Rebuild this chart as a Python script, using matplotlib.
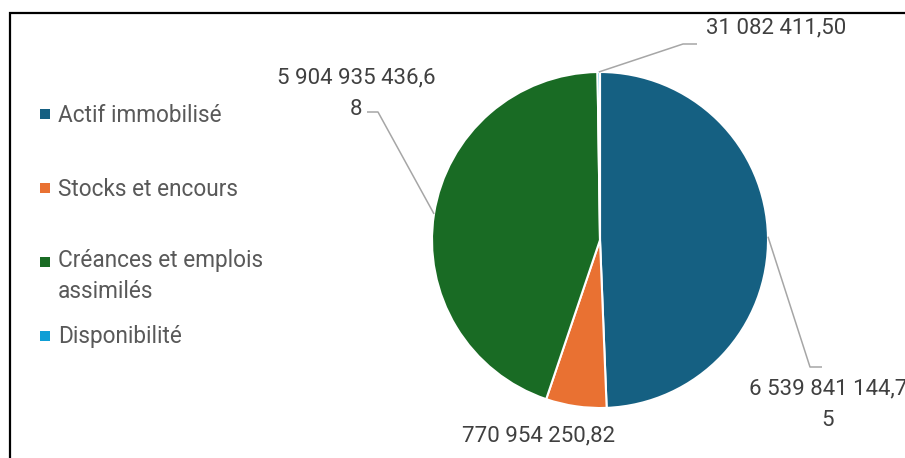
import numpy as np
import matplotlib.pyplot as plt
from matplotlib.lines import Line2D

plt.rcParams['font.family'] = ['Roboto', 'DejaVu Sans']

# Répartition de l'actif
postes = ["Actif immobilisé", "Stocks et encours",
          "Créances et emplois\nassimilés", "Disponibilité"]
montants = [6539841144.75, 770954250.82, 5904935436.68, 31082411.50]
couleurs = ["#156082", "#E97132", "#196B24", "#0F9ED5"]


def format_montant(v, largeur=15):
    s = f"{v:,.2f}".replace(",", " ").replace(".", ",")
    # coupure comme dans la zone d'étiquette d'Excel
    if len(s) > largeur:
        s = s[:largeur] + "\n" + s[largeur:]
    return s


W, H = 905, 458
fig = plt.figure(figsize=(W / 100, H / 100), dpi=100)
ax = fig.add_axes([0, 0, 1, 1])

centre = (600, 240)
rayon = 168
# l'axe y est inversé : départ à -90° en sens direct = midi, sens horaire à l'écran
wedges, _ = ax.pie(montants, colors=couleurs, startangle=-90, counterclock=True,
                   center=centre, radius=rayon, frame=True,
                   wedgeprops=dict(edgecolor="white", linewidth=1.5))
ax.set_xlim(0, W)
ax.set_ylim(H, 0)  # coordonnées en pixels, y vers le bas
ax.axis("off")

# cadre du graphique
ax.add_line(Line2D([9.5, 9.5, W + 5], [H + 5, 12.8, 12.8], color="black", lw=1.6,
                   solid_joinstyle="miter"))

# étiquettes : (x centre, y ligne de base de la dernière ligne, coude du repère, fin du repère)
etiquettes = [
    (828, 426, (810, 367), (822, 367)),
    (538.5, 441, None, None),
    (356, 115, (378, 112), (367, 112)),
    (776, 33, (683, 44), (697, 44)),
]
for w, v, (tx, ty, coude, fin) in zip(wedges, montants, etiquettes):
    ax.text(tx, ty, format_montant(v), ha="center", va="baseline",
            multialignment="center", fontsize=16, color="#404040", linespacing=1.68)
    if coude is not None:
        a = np.deg2rad((w.theta1 + w.theta2) / 2)
        x0 = centre[0] + rayon * np.cos(a)
        y0 = centre[1] + rayon * np.sin(a)
        ax.plot([x0, coude[0], fin[0]], [y0, coude[1], fin[1]],
                color="#A6A6A6", lw=1.1, solid_capstyle="butt")

# légende
lignes_y = [114, 188, 262, 336]
for nom, c, y in zip(postes, couleurs, lignes_y):
    ax.scatter([45], [y], marker="s", s=44, color=c, linewidths=0)
    base = y + 7.5 + 28 * nom.count("\n")
    ax.text(58, base, nom, ha="left", va="baseline", fontsize=16.3,
            color="#595959", linespacing=1.4)

fig.savefig("out.png", dpi=100)
